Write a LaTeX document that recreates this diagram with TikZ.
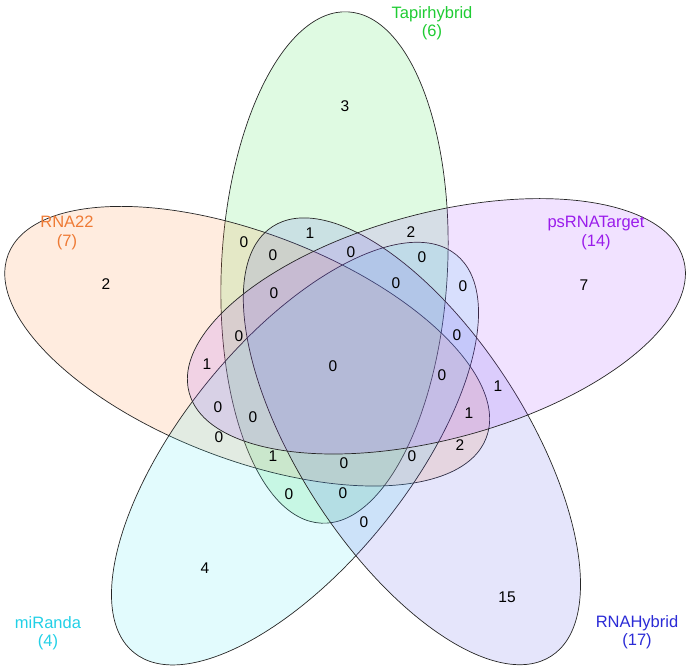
\documentclass[tikz,border=0pt]{standalone}
\usepackage{fontspec}
\setmainfont{Liberation Sans}
\definecolor{RNAOrange}{HTML}{FF8028}
\definecolor{TapirGreen}{HTML}{28DC3C}
\definecolor{PsPurple}{HTML}{A03CFF}
\definecolor{MiCyan}{HTML}{3CE6F0}
\definecolor{HybBlue}{HTML}{5050E6}
\definecolor{RNAOrangeText}{HTML}{EE7A35}
\definecolor{TapirGreenText}{HTML}{1FCC33}
\definecolor{PsPurpleText}{HTML}{9A1CEB}
\definecolor{MiCyanText}{HTML}{22D0E6}
\definecolor{HybBlueText}{HTML}{2B2BD6}

\begin{document}
\begin{tikzpicture}[x=1pt,y=1pt,line width=0.7pt,
  setring/.style={draw=black!85,fill opacity=0.15},
  setlabel/.style={align=center,font=\fontsize{16.5}{18.5}\selectfont},
  cnt/.style={font=\fontsize{15.5}{17}\selectfont}]
  \useasboundingbox (0,0) rectangle (692,-671);
  % ellipse centres, 100 from the middle, 72 degrees apart
  \coordinate (cTapir) at (334.5,-267.5);
  \coordinate (cRNA22) at (247.2,-346.2);
  \coordinate (cMiranda) at (295.0,-453.6);
  \coordinate (cHybrid) at (411.9,-441.3);
  \coordinate (cPsRNA) at (436.4,-326.3);
  \draw[setring,fill=TapirGreen,rotate around={87:(cTapir)}] (cTapir) ellipse [x radius=256,y radius=113];
  \draw[setring,fill=RNAOrange,rotate around={159:(cRNA22)}] (cRNA22) ellipse [x radius=256,y radius=113];
  \draw[setring,fill=MiCyan,rotate around={231:(cMiranda)}] (cMiranda) ellipse [x radius=256,y radius=113];
  \draw[setring,fill=HybBlue,rotate around={303:(cHybrid)}] (cHybrid) ellipse [x radius=256,y radius=113];
  \draw[setring,fill=PsPurple,rotate around={15:(cPsRNA)}] (cPsRNA) ellipse [x radius=256,y radius=113];

  % set names
  \node[setlabel,text=TapirGreenText] (lTapir) at (432,-23) {Tapirhybrid\\(6)};
  \node[setlabel,text=RNAOrangeText] (lRNA22) at (67,-233) {RNA22\\(7)};
  \node[setlabel,text=PsPurpleText] (lPsRNA) at (596,-233) {psRNATarget\\(14)};
  \node[setlabel,text=MiCyanText] (lMiranda) at (48,-633) {miRanda\\(4)};
  \node[setlabel,text=HybBlueText] (lHybrid) at (637,-632) {RNAHybrid\\(17)};

  % counts
  \node[cnt] (oTapir) at (345,-106) {3};
  \node[cnt] (oRNA22) at (106,-284) {2};
  \node[cnt] (oPsRNA) at (584,-285) {7};
  \node[cnt] (oMiranda) at (205,-568) {4};
  \node[cnt] (oHybrid) at (507,-597) {15};
  \node[cnt] (r01) at (244,-242) {0};
  \node[cnt] (r02) at (310,-233) {1};
  \node[cnt] (r03) at (411,-232) {2};
  \node[cnt] (r04) at (273,-255) {0};
  \node[cnt] (r05) at (351,-252) {0};
  \node[cnt] (r06) at (422,-257) {0};
  \node[cnt] (r07) at (274,-293) {0};
  \node[cnt] (r08) at (396,-283) {0};
  \node[cnt] (r09) at (463,-286) {0};
  \node[cnt] (r10) at (239,-336) {0};
  \node[cnt] (r11) at (457,-335) {0};
  \node[cnt] (r12) at (207,-364) {1};
  \node[cnt] (r13) at (333,-366) {0};
  \node[cnt] (r14) at (442,-375) {0};
  \node[cnt] (r15) at (498,-386) {1};
  \node[cnt] (r16) at (218,-407) {0};
  \node[cnt] (r17) at (253,-417) {0};
  \node[cnt] (r18) at (469,-413) {1};
  \node[cnt] (r19) at (219,-437) {0};
  \node[cnt] (r20) at (273,-456) {1};
  \node[cnt] (r21) at (344,-463) {0};
  \node[cnt] (r22) at (412,-456) {0};
  \node[cnt] (r23) at (460,-445) {2};
  \node[cnt] (r24) at (289,-494) {0};
  \node[cnt] (r25) at (343,-493) {0};
  \node[cnt] (r26) at (364,-522) {0};
\end{tikzpicture}
\end{document}
